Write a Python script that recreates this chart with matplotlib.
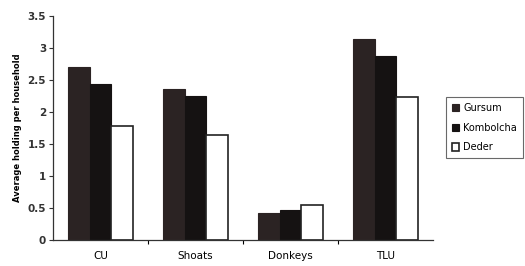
import numpy as np
import matplotlib.pyplot as plt

categories = ['CU', 'Shoats', 'Donkeys', 'TLU']
gursum = [2.70, 2.36, 0.42, 3.14]
kombolcha = [2.44, 2.25, 0.47, 2.87]
deder = [1.78, 1.64, 0.55, 2.23]

fig = plt.figure(figsize=(5.25, 2.66), dpi=100)
ax = fig.add_axes([0.101, 0.098, 0.724, 0.842])

x = np.arange(len(categories))
w = 0.227
ax.bar(x - w, gursum, w, color='#2b2323', edgecolor='#2b2323', linewidth=0.8, label='Gursum')
ax.bar(x, kombolcha, w, color='#151212', edgecolor='#151212', linewidth=0.8, label='Kombolcha')
ax.bar(x + w, deder, w, color='white', edgecolor='#222222', linewidth=1.2, label='Deder')

ax.set_xlim(-0.5, 3.5)
ax.set_ylim(0, 3.5)
ax.set_yticks(np.arange(0, 3.51, 0.5))
ax.set_yticklabels(['0', '0.5', '1', '1.5', '2', '2.5', '3', '3.5'], fontweight='bold')
ax.set_xticks(x)
ax.set_xticklabels(categories)
ax.set_xticks([0.5, 1.5, 2.5], minor=True)
ax.tick_params(axis='x', which='major', length=0, pad=8, labelsize=7.5)
ax.tick_params(axis='x', which='minor', length=3, width=0.8, direction='out')
ax.tick_params(axis='y', length=3, width=0.8, labelsize=7.5, pad=2, colors='#333333')
for s in ['top', 'right']:
    ax.spines[s].set_visible(False)
for s in ['left', 'bottom']:
    ax.spines[s].set_linewidth(0.9)
    ax.spines[s].set_color('#333333')

ax.set_ylabel('Average holding per household', fontsize=6, fontweight='bold', labelpad=4)

leg = fig.legend(loc='center left', bbox_to_anchor=(0.84, 0.52), fontsize=7,
                 frameon=True, fancybox=False, edgecolor='#444444',
                 handlelength=0.8, handleheight=0.8, handletextpad=0.4,
                 labelspacing=1.0, borderpad=0.6)
leg.get_frame().set_linewidth(0.8)

fig.savefig('out.png', dpi=100)
